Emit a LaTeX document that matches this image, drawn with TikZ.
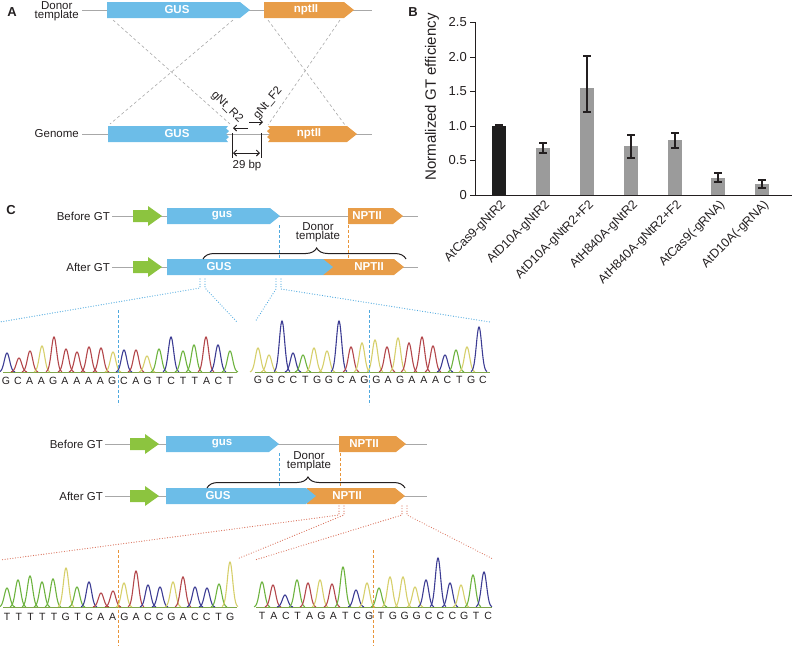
\documentclass[tikz,border=0pt]{standalone}
\usepackage{fontspec}
\setmainfont{Liberation Sans}
\usetikzlibrary{positioning, arrows.meta, decorations.pathreplacing}

\definecolor{gusblue}{HTML}{6CBDE8}
\definecolor{nptorange}{HTML}{E89D48}
\definecolor{promgreen}{HTML}{8CC43F}
\definecolor{dnagray}{HTML}{A8A8A8}
\definecolor{inkblack}{HTML}{231F20}
\definecolor{barblack}{HTML}{1E1E1E}
\definecolor{bargray}{HTML}{9B9B9B}
\definecolor{trA}{HTML}{6DB33F}
\definecolor{trC}{HTML}{3D3D94}
\definecolor{trG}{HTML}{D6CF6B}
\definecolor{trT}{HTML}{B3474B}
\definecolor{basegreen}{HTML}{7FA64A}
\definecolor{cutblue}{HTML}{4FA9DF}
\definecolor{cutorange}{HTML}{E8953A}
\definecolor{fanred}{HTML}{D9705A}

% gene box: name, left x, tip x, y, colour, label x, label
\newcommand{\genebox}[7]{%
  \fill[#5] (#2,#4-8) -- (#3-10,#4-8) -- (#3,#4) -- (#3-10,#4+8) -- (#2,#4+8) -- cycle;
  \node[genetext] (#1) at (#6,#4) {#7};}
% promoter arrow: left x, y
\newcommand{\promoter}[2]{%
  \fill[promgreen] (#1,#2-6) -- (#1+15,#2-6) -- (#1+15,#2-10) -- (#1+29,#2)
     -- (#1+15,#2+10) -- (#1+15,#2+6) -- (#1,#2+6) -- cycle;}
% chromatogram peaks: baseline y, list x/top/colour
\newcommand{\chromtrace}[2]{%
  \foreach \pX/\pY/\pC in {#2}
    \draw[color=\pC, line width=1.1pt] plot[domain=-8:8, samples=33, smooth]
      ({\pX+\x}, {#1-(#1-\pY)*exp(-\x*\x/14)});}
% base calls: name, first x, y, step, letters
\newcommand{\seqrow}[5]{%
  \foreach \b [count=\i] in {#5}
    \node[seqtext] (#1\i) at ({#2+(\i-1)*#4},#3) {\b};}

\begin{document}
\begin{tikzpicture}[x=1pt, y=-1pt,
    dnaline/.style={draw=dnagray, line width=1pt},
    genetext/.style={text=white, font=\bfseries\fontsize{11.5}{12}\selectfont, inner sep=0pt},
    rowtext/.style={text=inkblack, font=\fontsize{11.5}{9}\selectfont, inner sep=1pt},
    paneltag/.style={text=inkblack, font=\bfseries\fontsize{13}{13}\selectfont, inner sep=0pt},
    crossline/.style={draw=dnagray, line width=0.6pt, dash pattern=on 3pt off 2.5pt},
    primer/.style={-{Straight Barb[length=3pt,width=6pt]}, line width=0.9pt, draw=inkblack},
    bpline/.style={draw=inkblack, line width=0.9pt},
    axisline/.style={draw=inkblack, line width=1pt},
    ticktext/.style={text=inkblack, font=\fontsize{13}{13}\selectfont, anchor=east, inner sep=0pt},
    barlabel/.style={text=inkblack, font=\fontsize{12.5}{12.5}\selectfont, anchor=east, rotate=45, inner sep=0pt},
    errbar/.style={draw=inkblack, line width=1.2pt},
    donorbrace/.style={draw=inkblack, line width=1pt, decorate,
                       decoration={brace, amplitude=11pt, aspect=#1}},
    cutline/.style={draw=#1, line width=1pt, dash pattern=on 3pt off 2pt},
    fanline/.style={draw=#1, line width=1.2pt, line cap=round, dash pattern=on 0pt off 2.6pt},
    seqtext/.style={text=inkblack, font=\fontsize{10.5}{10.5}\selectfont, inner sep=0pt},
    baseline/.style={draw=basegreen, line width=1pt}
  ]
  \useasboundingbox (0,0) rectangle (793,646);

  % --- Panel A: donor template and genome ---
  \node[paneltag] (tagA) at (12,12) {A};
  \draw[dnaline] (82,10) -- (372,10);
  \node[rowtext, align=center, anchor=east] (donorlbl) at (80,11) {Donor\\template};
  \genebox{dGUS}{107}{250}{10}{gusblue}{177}{GUS}
  \genebox{dNPT}{264}{354}{10}{nptorange}{306}{nptII}

  \draw[dnaline] (82,134) -- (372,134);
  \node[rowtext, anchor=east] (genomelbl) at (80,134) {Genome};
  \fill[gusblue] (108,126) -- (228,126) -- (226,128.5) -- (229,131) -- (226,134) -- (229,137)
     -- (226,139.5) -- (228,142) -- (108,142) -- cycle;
  \node[genetext] (gGUS) at (177,134) {GUS};
  \fill[nptorange] (268,126) -- (347,126) -- (357,134) -- (347,142) -- (268,142) -- (270,139.5)
     -- (267,137) -- (270,134) -- (267,131) -- (270,128.5) -- cycle;
  \node[genetext] (gNPT) at (309,134) {nptII};

  % crossover lines
  \coordinate (dG-l) at (113,20);  \coordinate (dG-r) at (233,20);
  \coordinate (gG-l) at (110,124); \coordinate (gG-r) at (230,124);
  \coordinate (dN-l) at (268,20);  \coordinate (dN-r) at (340,20);
  \coordinate (gN-l) at (268,125); \coordinate (gN-r) at (345,125);
  \draw[crossline] (dG-l) -- (gG-r);
  \draw[crossline] (dG-r) -- (gG-l);
  \draw[crossline] (dN-l) -- (gN-r);
  \draw[crossline] (dN-r) -- (gN-l);

  % primers and 29 bp gap
  \coordinate (r2s) at (248,128); \coordinate (r2e) at (233,128);
  \coordinate (f2s) at (249,122); \coordinate (f2e) at (263,122);
  \draw[primer] (r2s) -- (r2e);
  \draw[primer] (f2s) -- (f2e);
  \node[rowtext, rotate=-45] (r2lbl) at (227,107) {gNt\_R2};
  \node[rowtext, rotate=50] (f2lbl) at (268,103) {gNt\_F2};
  \coordinate (gapL) at (232,133); \coordinate (gapR) at (261,133);
  \draw[bpline] (gapL) -- ++(0,25);
  \draw[bpline] (gapR) -- ++(0,25);
  \draw[bpline, {Straight Barb[length=3pt,width=6pt]}-{Straight Barb[length=3pt,width=6pt]}]
     ([shift={(1,20)}]gapL) -- ([shift={(-1,20)}]gapR);
  \node[rowtext] (bplbl) at (247,166) {29 bp};

  % --- Panel B: bar chart ---
  \node[paneltag] (tagB) at (413,12) {B};
  \draw[axisline] (475,22) -- (475,195) -- (792,195);
  \foreach \v/\lab in {0/0, 0.5/0.5, 1/1.0, 1.5/1.5, 2/2.0, 2.5/2.5} {
    \draw[axisline] (475,{195-69*\v}) -- (470,{195-69*\v});
    \node[ticktext] at (467,{195-69*\v}) {\lab};
  }
  \node[text=inkblack, font=\fontsize{15}{15}\selectfont, rotate=90] (ylab) at (432,97)
     {Normalized GT efficiency};
  \foreach \bx/\bt/\eh/\el/\bc in {499/126/125/127.5/barblack, 543/148/143/153/bargray,
      587/88/56/112/bargray, 631/146/135/158/bargray, 675/140/133/148/bargray,
      718/178/173/182/bargray, 762/184/180/188/bargray} {
    \fill[\bc] (\bx-7,195) rectangle (\bx+7,\bt);
    \draw[errbar] (\bx,\eh) -- (\bx,\el) (\bx-4,\eh) -- (\bx+4,\eh) (\bx-4,\el) -- (\bx+4,\el);
  }
  \foreach \bx/\lab [count=\k] in {499/AtCas9-gNtR2, 543/AtD10A-gNtR2, 587/AtD10A-gNtR2+F2,
      631/AtH840A-gNtR2, 675/AtH840A-gNtR2+F2, 718/AtCas9(-gRNA), 762/AtD10A(-gRNA)}
    \node[barlabel] (bar\k) at (\bx+5,203) {\lab};

  % --- Panel C (top): GUS junction ---
  \node[paneltag] (tagC) at (11,210) {C};
  \draw[dnaline] (112,216) -- (418,216);
  \node[rowtext, anchor=east] (before1) at (111,216) {Before GT};
  \promoter{133}{216}
  \genebox{bGUS1}{167}{280}{216}{gusblue}{222}{gus}
  \genebox{bNPT1}{348}{403}{216}{nptorange}{367}{NPTII}

  \draw[dnaline] (112,267) -- (418,267);
  \node[rowtext, anchor=east] (after1) at (111,267) {After GT};
  \promoter{133}{267}
  \genebox{aNPT1}{323}{404}{267}{nptorange}{369}{NPTII}
  \genebox{aGUS1}{167}{333}{267}{gusblue}{219}{GUS}
  \draw[donorbrace=0.56] (203,259) -- (406,259);
  \node[rowtext, align=center] (donor1) at (318,232) {Donor\\template};
  \draw[cutline=cutblue] (279,225) -- (279,258);
  \draw[cutline=cutorange] (348,225) -- (348,258);

  % zoom-in to traces
  \coordinate (fa1) at (200,279); \coordinate (fa2) at (205,279);
  \coordinate (fa3) at (276,279); \coordinate (fa4) at (281,279);
  \draw[fanline=cutblue] (fa1) -- ++(0,9) -- (0,322);
  \draw[fanline=cutblue] (fa2) -- ++(0,9) -- (237,322);
  \draw[fanline=cutblue] (fa3) -- ++(0,10) -- (255,322);
  \draw[fanline=cutblue] (fa4) -- ++(0,10) -- (490,322);

  \draw[baseline] (3,372) -- (237,372);
  \draw[baseline] (255,372) -- (490,372);
  \chromtrace{372}{7/353/trC, 19/358/trT, 30/351/trT, 42/346/trG, 54/337/trT, 66/349/trT,
    77/352/trT, 89/347/trT, 101/348/trT, 113/352/trG, 124/350/trC, 136/350/trT, 147/356/trG,
    159/349/trA, 171/337/trC, 183/351/trA, 194/345/trA, 206/337/trT, 218/345/trC, 230/351/trA}
  \chromtrace{372}{258/348/trG, 269/355/trG, 282/321/trC, 293/353/trC, 303/355/trA, 314/348/trG,
    327/351/trG, 339/321/trC, 351/347/trT, 362/343/trG, 375/340/trG, 387/347/trT, 398/338/trG,
    409/343/trT, 422/337/trT, 433/346/trT, 445/355/trC, 456/350/trA, 467/347/trG, 479/327/trC}
  \seqrow{sa}{6}{381}{11.8}{G,C,A,A,G,A,A,A,A,G,C,A,G,T,C,T,T,A,C,T}
  \seqrow{sb}{258}{380}{11.84}{G,G,C,C,T,G,G,C,A,G,G,A,G,A,A,A,C,T,G,C}
  \draw[cutline=cutblue] (118,310) -- (118,405);
  \draw[cutline=cutblue] (369,310) -- (369,405);

  % --- Panel C (bottom): NPTII junction ---
  \draw[dnaline] (105,444) -- (427,444);
  \node[rowtext, anchor=east] (before2) at (104,444) {Before GT};
  \promoter{130}{444}
  \genebox{bGUS2}{166}{279}{444}{gusblue}{222}{gus}
  \genebox{bNPT2}{339}{406}{444}{nptorange}{364}{NPTII}

  \draw[dnaline] (105,496) -- (427,496);
  \node[rowtext, anchor=east] (after2) at (104,496) {After GT};
  \promoter{130}{496}
  \genebox{aNPT2}{307}{405}{496}{nptorange}{347}{NPTII}
  \genebox{aGUS2}{166}{316}{496}{gusblue}{218}{GUS}
  \draw[donorbrace=0.51] (207,488) -- (405,488);
  \node[rowtext, align=center] (donor2) at (309,461) {Donor\\template};
  \draw[cutline=cutblue] (279,453) -- (279,488);
  \draw[cutline=cutorange] (340,453) -- (340,488);

  \coordinate (fb1) at (339,506); \coordinate (fb2) at (344,506);
  \coordinate (fb3) at (402,506); \coordinate (fb4) at (407,506);
  \draw[fanline=fanred] (fb1) -- ++(0,9) -- (0,560);
  \draw[fanline=fanred] (fb2) -- ++(0,9) -- (237,559);
  \draw[fanline=fanred] (fb3) -- ++(0,9) -- (255,560);
  \draw[fanline=fanred] (fb4) -- ++(0,9) -- (493,559);

  \draw[baseline] (3,607) -- (237,607);
  \draw[baseline] (256,607) -- (492,607);
  \chromtrace{607}{7/588/trA, 18/580/trA, 30/576/trA, 42/582/trA, 53/579/trA, 66/568/trG,
    77/587/trA, 89/582/trC, 101/593/trT, 113/591/trT, 124/583/trG, 136/571/trT, 148/585/trC,
    160/587/trC, 173/582/trG, 183/577/trT, 195/587/trC, 207/588/trC, 219/584/trA, 230/562/trG}
  \chromtrace{607}{262/582/trA, 273/585/trT, 285/595/trC, 297/580/trA, 308/583/trT, 320/580/trG,
    332/584/trT, 343/567/trA, 356/590/trC, 367/583/trG, 379/588/trA, 390/577/trG, 403/577/trG,
    415/587/trG, 426/580/trC, 438/558/trC, 450/583/trC, 461/585/trG, 473/575/trA, 484/572/trC}
  \seqrow{sc}{7}{617}{11.75}{T,T,T,T,T,G,T,C,A,A,G,A,C,C,G,A,C,C,T,G}
  \seqrow{sd}{262}{616}{11.9}{T,A,C,T,A,G,A,T,C,G,T,G,G,G,C,C,C,G,T,C}
  \draw[cutline=cutorange] (118,550) -- (118,646);
  \draw[cutline=cutorange] (373,550) -- (373,646);
\end{tikzpicture}
\end{document}
